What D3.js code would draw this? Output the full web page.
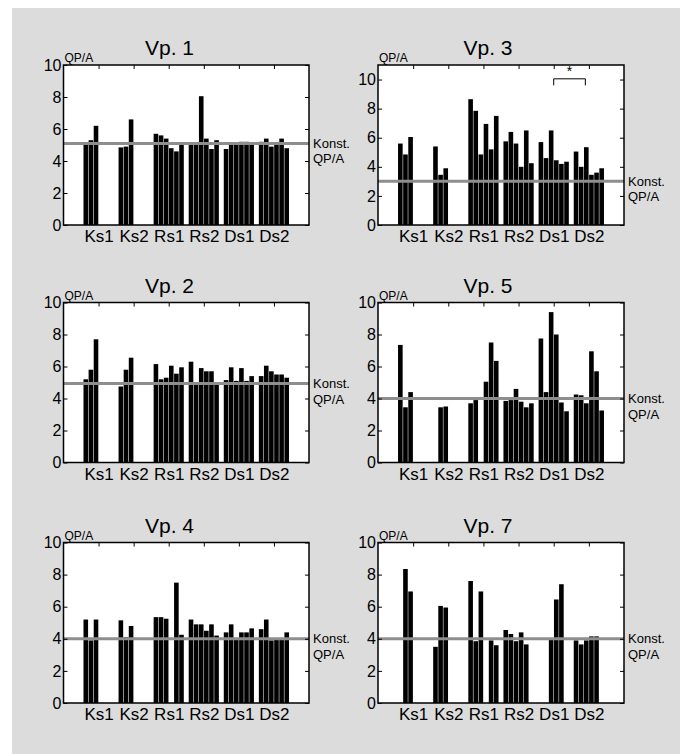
<!DOCTYPE html>
<html>
<head>
<meta charset="utf-8">
<script src="https://cdn.jsdelivr.net/npm/d3@7"></script>
<style>
  body { margin: 0; background: #fff; }
  svg text { font-family: "Liberation Sans", Arial, sans-serif; fill: #000; font-weight: normal; }
</style>
</head>
<body>
<div class="vis-holder"></div>
<script>
// categories along the x axis (6 bars per category)
var groups = ["Ks1", "Ks2", "Rs1", "Rs2", "Ds1", "Ds2"];
var yTickValues = [0, 2, 4, 6, 8, 10];

// panels in reading order (left column, right column)
var panelNames = ["Vp. 1", "Vp. 3", "Vp. 2", "Vp. 5", "Vp. 4", "Vp. 7"];
var yMaxes = [10, 11, 10, 10, 10, 10];
// constant QP/A reference line for each panel
var konstValues = [5.1, 3.0, 4.93, 4.0, 4.0, 4.0];

// QP/A values, one row per category, 6 bars each
var vp1 = [
  [5.0, 5.3, 6.2, 0, 0, 0],
  [4.85, 4.9, 6.6, 0, 0, 0],
  [5.7, 5.6, 5.4, 4.8, 4.6, 5.0],
  [5.0, 5.05, 8.05, 5.4, 4.75, 5.3],
  [4.75, 5.0, 5.05, 5.2, 5.2, 5.15],
  [5.2, 5.4, 4.9, 5.1, 5.4, 4.8]
];
var vp3 = [
  [5.6, 4.85, 6.05, 0, 0, 0],
  [5.4, 3.45, 3.9, 0, 0, 0],
  [8.65, 7.85, 4.85, 6.95, 5.2, 7.5],
  [5.75, 6.4, 5.6, 4.0, 6.5, 4.25],
  [5.7, 4.6, 6.5, 4.45, 4.2, 4.35],
  [5.05, 4.0, 5.35, 3.45, 3.6, 3.9]
];
var vp2 = [
  [5.2, 5.8, 7.7, 0, 0, 0],
  [4.75, 5.8, 6.55, 0, 0, 0],
  [6.15, 5.2, 5.3, 6.05, 5.55, 5.95],
  [6.3, 4.9, 5.9, 5.7, 5.7, 4.85],
  [5.15, 5.95, 5.1, 5.9, 5.1, 5.4],
  [5.4, 6.05, 5.7, 5.5, 5.5, 5.3]
];
var vp5 = [
  [7.35, 3.45, 4.4, 0, 0, 0],
  [0, 3.45, 3.5, 0, 0, 0],
  [3.7, 3.9, 0, 5.05, 7.5, 6.35],
  [3.85, 3.9, 4.6, 3.8, 3.45, 3.7],
  [7.75, 4.4, 9.4, 8.0, 3.75, 3.2],
  [4.25, 4.2, 3.7, 6.95, 5.7, 3.25]
];
var vp4 = [
  [5.2, 3.9, 5.2, 0, 0, 0],
  [5.15, 4.1, 4.8, 0, 0, 0],
  [5.35, 5.35, 5.25, 0, 7.5, 4.25],
  [5.2, 4.9, 4.9, 4.5, 4.9, 4.2],
  [4.4, 4.9, 3.95, 4.4, 4.4, 4.65],
  [4.6, 5.2, 3.9, 3.95, 3.95, 4.4]
];
var vp7 = [
  [0, 8.35, 6.95, 0, 0, 0],
  [3.5, 6.05, 5.95, 0, 0, 0],
  [7.6, 3.85, 6.95, 0, 3.9, 3.6],
  [4.55, 4.3, 3.85, 4.4, 3.65, 0],
  [0, 0, 3.95, 6.45, 7.4, 0],
  [3.9, 3.65, 3.9, 4.15, 4.15, 0]
];
var panelData = [vp1, vp3, vp2, vp5, vp4, vp7];

// significance bracket (Ds1 vs Ds2 in Vp. 3)
var bracketPanel = "Vp. 3";
var bracketRange = [5, 5.9];
var bracketLevels = [10.05, 9.6];
var bracketLabel = "*";

// svg size and panel layout
var width = 680;
var height = 754;
var colLeft = [63.5, 378];
var colRight = [309, 624];
var rowTop = [65, 302.5, 542.5];
var rowBottom = [225, 462.5, 703];
var titleOffset = [106, 110];

var svg = d3.select(".vis-holder")
            .append("svg")
            .attr("width", width)
            .attr("height", height);

// light gray background box
svg.append("rect")
   .attr("x", 12)
   .attr("y", 8)
   .attr("width", width - 12)
   .attr("height", height - 8)
   .attr("fill", "#dcdcdc");

panelNames.forEach(function(name, i) {
  draw_panel(i);
});

// draws one grouped bar chart panel
function draw_panel(i) {
  var col = i % 2;
  var row = Math.floor(i / 2);
  var left = colLeft[col], right = colRight[col];
  var top = rowTop[row], bottom = rowBottom[row];
  var values = panelData[i];

  var xScale = d3.scaleLinear().domain([0, 7]).range([left, right]);
  // group bands centred on 1..6
  var groupScale = d3.scaleBand()
                     .domain(groups)
                     .range([xScale(0.5), xScale(6.5)])
                     .paddingInner(0.14)
                     .paddingOuter(0.07);
  var slotScale = d3.scaleBand()
                    .domain(d3.range(6))
                    .range([0, groupScale.bandwidth()])
                    .paddingInner(0.1);
  var yScale = d3.scaleLinear().domain([0, yMaxes[i]]).range([bottom, top]);

  var g = svg.append("g");

  // white plot area
  g.append("rect")
   .attr("x", left)
   .attr("y", top)
   .attr("width", right - left)
   .attr("height", bottom - top)
   .attr("fill", "#fff");

  // bars
  g.append("g")
   .selectAll("g")
   .data(values)
   .enter()
   .append("g")
   .attr("transform", function(d, gi) { return "translate(" + groupScale(groups[gi]) + ",0)"; })
   .selectAll("rect")
   .data(function(d) { return d; })
   .enter()
   .append("rect")
   .attr("x", function(d, si) { return slotScale(si); })
   .attr("y", function(d) { return yScale(d); })
   .attr("width", slotScale.bandwidth())
   .attr("height", function(d) { return bottom - yScale(d); })
   .attr("fill", "#000");

  // constant QP/A line
  var ky = yScale(konstValues[i]);
  g.append("line")
   .attr("x1", left)
   .attr("x2", right)
   .attr("y1", ky)
   .attr("y2", ky)
   .attr("stroke", "#8e8e8e")
   .attr("stroke-width", 3);

  g.append("text")
   .attr("x", right + 4)
   .attr("y", ky + 4.5)
   .attr("font-size", 13)
   .text("Konst.");
  g.append("text")
   .attr("x", right + 4)
   .attr("y", ky + 20)
   .attr("font-size", 13)
   .text("QP/A");

  // axes with inward ticks
  var fontFamily = '"Liberation Sans", Arial, sans-serif';
  var leftAxis = g.append("g")
                  .attr("transform", "translate(" + left + ",0)")
                  .call(d3.axisLeft(yScale).tickValues(yTickValues).tickSizeInner(-4).tickSizeOuter(0).tickPadding(2));
  leftAxis.attr("font-size", 16).attr("font-family", fontFamily);

  g.append("g")
   .attr("transform", "translate(" + right + ",0)")
   .call(d3.axisRight(yScale).tickValues(yTickValues).tickSizeInner(-4).tickSizeOuter(0).tickFormat(""));

  g.append("g")
   .attr("transform", "translate(0," + top + ")")
   .call(d3.axisTop(xScale).tickValues([1, 2, 3, 4, 5, 6]).tickSizeInner(-4).tickSizeOuter(0).tickFormat(""));

  var bottomAxis = g.append("g")
                    .attr("transform", "translate(0," + bottom + ")")
                    .call(d3.axisBottom(xScale).tickValues([1, 2, 3, 4, 5, 6]).tickSizeInner(0).tickSizeOuter(0).tickPadding(5)
                            .tickFormat(function(d) { return groups[d - 1]; }));
  bottomAxis.attr("font-size", 17).attr("font-family", fontFamily);

  g.selectAll(".domain").remove();

  // plot frame
  g.append("rect")
   .attr("x", left)
   .attr("y", top)
   .attr("width", right - left)
   .attr("height", bottom - top)
   .attr("fill", "none")
   .attr("stroke", "#000")
   .attr("stroke-width", 1.5);

  // panel title and unit label
  g.append("text")
   .attr("x", left + titleOffset[col])
   .attr("y", top - 10)
   .attr("text-anchor", "middle")
   .attr("font-size", 21)
   .text(panelNames[i]);

  g.append("text")
   .attr("x", left + 1)
   .attr("y", top - 3)
   .attr("font-size", 12)
   .text("QP/A");

  // significance bracket
  if (panelNames[i] === bracketPanel) {
    var bx0 = xScale(bracketRange[0]), bx1 = xScale(bracketRange[1]);
    var by0 = yScale(bracketLevels[0]), by1 = yScale(bracketLevels[1]);
    g.append("path")
     .attr("d", "M" + bx0 + "," + by1 + "V" + by0 + "H" + bx1 + "V" + by1)
     .attr("fill", "none")
     .attr("stroke", "#000")
     .attr("stroke-width", 1);
    g.append("text")
     .attr("x", (bx0 + bx1) / 2)
     .attr("y", by0 - 3)
     .attr("text-anchor", "middle")
     .attr("font-size", 14)
     .text(bracketLabel);
  }
}
</script>
</body>
</html>
